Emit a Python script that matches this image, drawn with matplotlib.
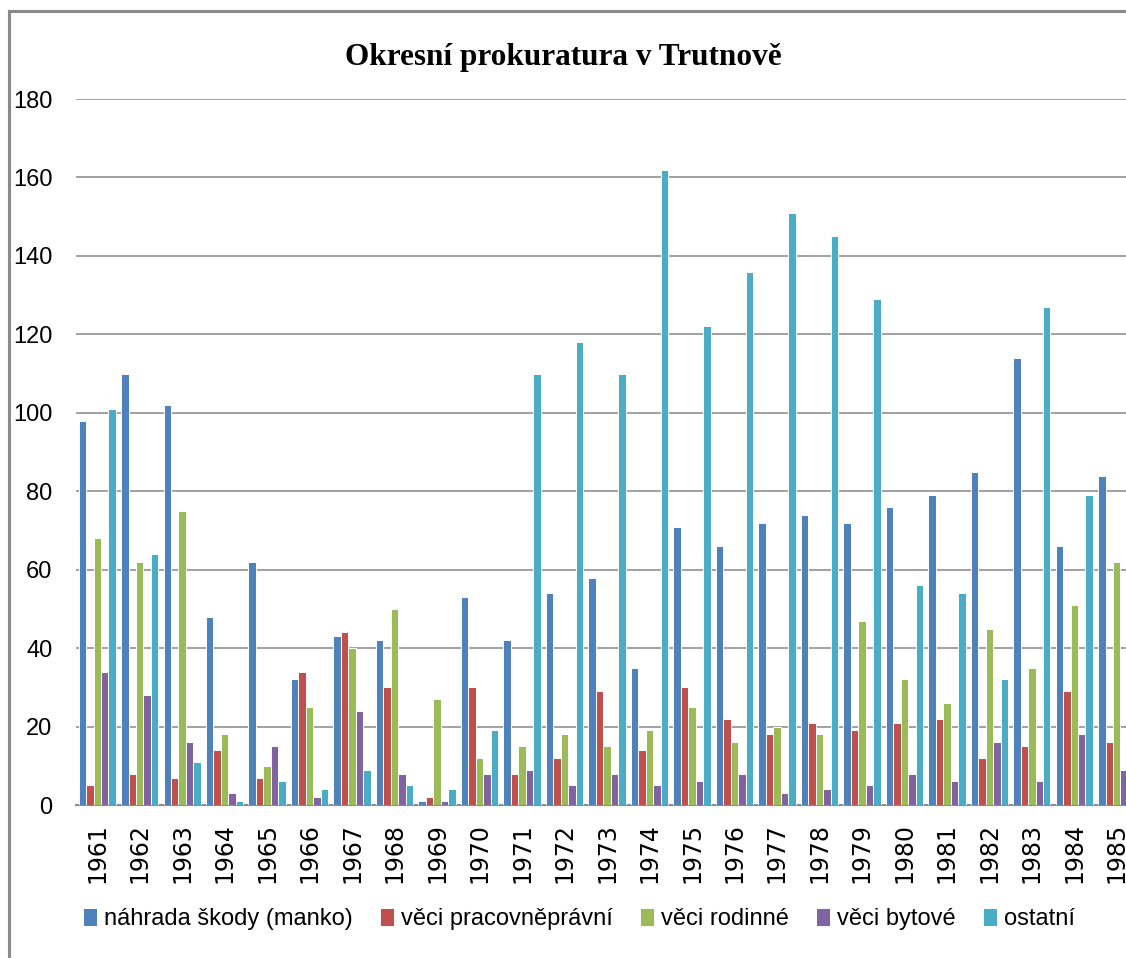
import matplotlib
matplotlib.use("Agg")
import matplotlib.pyplot as plt
from matplotlib.lines import Line2D
import numpy as np

# data
years = [str(y) for y in range(1961, 1986)]
series_names = ["náhrada škody (manko)", "věci pracovněprávní", "věci rodinné",
                "věci bytové", "ostatní"]
nahrada = [98, 110, 102, 48, 62, 32, 43, 42, 1, 53, 42, 54, 58, 35, 71, 66, 72, 74, 72, 76, 79, 85, 114, 66, 84]
pracovni = [5, 8, 7, 14, 7, 34, 44, 30, 2, 30, 8, 12, 29, 14, 30, 22, 18, 21, 19, 21, 22, 12, 15, 29, 16]
rodinne = [68, 62, 75, 18, 10, 25, 40, 50, 27, 12, 15, 18, 15, 19, 25, 16, 20, 18, 47, 32, 26, 45, 35, 51, 62]
bytove = [34, 28, 16, 3, 15, 2, 24, 8, 1, 8, 9, 5, 8, 5, 6, 8, 3, 4, 5, 8, 6, 16, 6, 18, 9]
ostatni = [101, 64, 11, 1, 6, 4, 9, 5, 4, 19, 110, 118, 110, 162, 122, 136, 151, 145, 129, 56, 54, 32, 127, 79, 49]
colors = ["#4F81BD", "#C0504D", "#9BBB59", "#8064A2", "#4BACC6"]

sans = "Liberation Sans"

fig = plt.figure(figsize=(11.26, 9.58), dpi=100)
ax = fig.add_axes([76 / 1126, 1 - 805 / 958, 1062 / 1126, 706 / 958])

x = np.arange(len(years))
w = 0.176
all_series = [nahrada, pracovni, rodinne, bytove, ostatni]
for i, vals in enumerate(all_series):
    ax.bar(x + (i - 2) * w, vals, width=w, color=colors[i], edgecolor="white",
           linewidth=0.7, label=series_names[i], zorder=3)

ax.set_xlim(-0.5, len(years) - 0.5)
ax.set_ylim(0, 180)
ax.set_yticks(range(0, 181, 20))
ax.yaxis.grid(True, color="#9a9a9a", linewidth=1.3, zorder=0)
ax.set_axisbelow(True)
for s in ["top", "right", "left"]:
    ax.spines[s].set_visible(False)
ax.spines["bottom"].set_color("#8c8c8c")
ax.spines["bottom"].set_linewidth(1.5)

ax.set_xticks(x)
ax.set_xticklabels(years, rotation=90, fontsize=17, family="DejaVu Sans")
ax.tick_params(axis="x", length=0, pad=13)
ax.tick_params(axis="y", length=0, pad=17, labelsize=17)
for t in ax.get_yticklabels():
    t.set_family(sans)

fig.text(563 / 1126, 1 - 58 / 958, "Okresní prokuratura v Trutnově", ha="center", va="center",
         fontsize=22.5, fontweight="bold", family="Liberation Serif")

fig.legend(loc="center", bbox_to_anchor=(579 / 1126, 1 - 919 / 958), ncol=5, frameon=False,
           prop={"family": sans, "size": 17}, handlelength=0.6, handleheight=0.8,
           handletextpad=0.3, columnspacing=1.15)

# chart border (only top and left edges are inside the image)
fig.add_artist(Line2D([9 / 1126, 9 / 1126], [0, 1 - 11 / 958], color="#8a8a8a", linewidth=2.2))
fig.add_artist(Line2D([9 / 1126, 1], [1 - 11 / 958, 1 - 11 / 958], color="#8a8a8a", linewidth=2.2))

fig.savefig("out.png", dpi=100)
